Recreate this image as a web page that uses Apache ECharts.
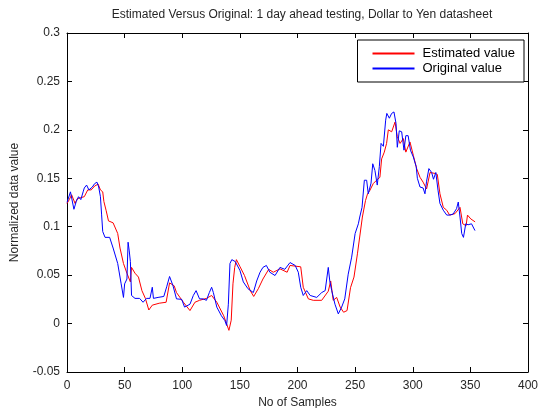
<!DOCTYPE html>
<html>
<head>
<meta charset="utf-8">
<script src="https://cdn.jsdelivr.net/npm/echarts@6/dist/echarts.min.js"></script>
<style>
  html, body { margin: 0; padding: 0; background: #fff; }
  #chart { width: 541px; height: 408px; }
</style>
</head>
<body>
<div id="chart"></div>
<script>
// values (sample index, normalized value)
const origX = [0, 3, 4, 6, 8, 10, 12, 14, 15, 17, 19, 22, 24, 26, 27.5, 29, 30, 31, 33, 37, 40, 44, 47, 49, 50, 52, 53, 54, 55, 56, 59, 63, 66, 69, 72, 74, 75, 79, 84, 86.5, 89, 92, 95, 99.5, 102, 106.7, 109.6, 112, 115, 118, 121, 123.5, 125.5, 127, 130, 134, 137, 138.5, 140, 141.4, 143, 146, 147, 150, 153, 157, 161.7, 164.6, 167.5, 170, 173, 176, 180.5, 184.8, 189, 193.5, 198, 200.7, 202.8, 205, 208, 211, 216.7, 221, 224, 226.7, 228, 229.7, 232.5, 235.4, 238.3, 241, 244, 247, 250, 252.8, 254, 256, 258, 260, 261.4, 263.8, 265.3, 267.2, 269.2, 271, 272.5, 274.5, 276.5, 277.5, 279.7, 281.7, 283.7, 285.5, 286.6, 288.3, 290.4, 292.4, 294, 296, 298, 300.5, 303, 304, 306.3, 309, 310.6, 312, 314, 316.4, 318, 320, 322, 323.6, 326.5, 329.5, 332, 335, 338, 339.5, 341, 342.5, 344, 346, 348, 351, 354];
const origY = [0.125, 0.136, 0.135, 0.118, 0.126, 0.131, 0.128, 0.136, 0.140, 0.143, 0.138, 0.141, 0.1445, 0.146, 0.141, 0.131, 0.113, 0.095, 0.089, 0.089, 0.078, 0.062, 0.041, 0.027, 0.041, 0.046, 0.084, 0.075, 0.064, 0.029, 0.026, 0.026, 0.022, 0.026, 0.026, 0.0375, 0.026, 0.027, 0.028, 0.038, 0.0486, 0.039, 0.0255, 0.025, 0.017, 0.020, 0.029, 0.034, 0.0255, 0.0255, 0.024, 0.032, 0.0375, 0.032, 0.017, 0.008, 0.003, -0.002, 0.020, 0.062, 0.066, 0.064, 0.066, 0.055, 0.043, 0.036, 0.032, 0.044, 0.053, 0.058, 0.060, 0.053, 0.0496, 0.058, 0.056, 0.063, 0.060, 0.053, 0.0375, 0.029, 0.034, 0.029, 0.027, 0.032, 0.034, 0.058, 0.044, 0.034, 0.020, 0.010, 0.017, 0.0255, 0.051, 0.0686, 0.093, 0.103, 0.110, 0.120, 0.148, 0.148, 0.134, 0.145, 0.165, 0.158, 0.143, 0.162, 0.186, 0.183, 0.210, 0.217, 0.212, 0.217, 0.2185, 0.2065, 0.182, 0.199, 0.198, 0.179, 0.194, 0.194, 0.179, 0.172, 0.162, 0.150, 0.141, 0.140, 0.134, 0.147, 0.160, 0.156, 0.149, 0.156, 0.137, 0.124, 0.117, 0.112, 0.112, 0.113, 0.1186, 0.1255, 0.110, 0.093, 0.089, 0.103, 0.102, 0.103, 0.096];

const estX = [0, 2, 4, 7, 9, 12, 15, 18, 21, 24, 27, 29, 31, 32, 34, 36, 40, 44, 46, 49, 52, 55, 56, 57, 59, 62, 65, 68, 71, 74, 80, 86, 89, 93, 95, 101, 106.7, 111, 115, 121, 125.5, 130, 136, 140.5, 142.5, 144, 145.5, 147, 150, 154, 159, 162, 166, 170, 175, 179, 184.8, 191, 193.5, 202.8, 205, 209.4, 213.7, 221, 226.7, 228.8, 231, 234, 237, 240, 243, 246, 249, 252, 256.3, 259, 260.8, 262.8, 265.7, 268.6, 271.5, 273, 275.3, 277.3, 278.8, 281.7, 284.6, 286.6, 289, 291.8, 294, 297.6, 300.5, 303.4, 306.3, 309, 312, 315, 319.3, 321.3, 323.6, 326.5, 329.5, 332, 336.7, 341, 343.4, 346.3, 347.5, 350.4, 354.1];
const estY = [0.124, 0.128, 0.133, 0.124, 0.129, 0.130, 0.131, 0.138, 0.138, 0.142, 0.144, 0.138, 0.136, 0.126, 0.1165, 0.106, 0.104, 0.093, 0.078, 0.062, 0.052, 0.043, 0.058, 0.058, 0.052, 0.048, 0.034, 0.026, 0.014, 0.019, 0.021, 0.022, 0.042, 0.039, 0.032, 0.022, 0.0134, 0.022, 0.024, 0.026, 0.029, 0.022, 0.008, -0.007, 0.0035, 0.041, 0.058, 0.066, 0.059, 0.0496, 0.034, 0.028, 0.036, 0.046, 0.056, 0.053, 0.0565, 0.053, 0.060, 0.0586, 0.0375, 0.0255, 0.024, 0.024, 0.0334, 0.044, 0.024, 0.027, 0.017, 0.0117, 0.0134, 0.037, 0.048, 0.072, 0.110, 0.127, 0.134, 0.1375, 0.1445, 0.148, 0.151, 0.170, 0.177, 0.186, 0.200, 0.198, 0.208, 0.193, 0.186, 0.191, 0.177, 0.1875, 0.1737, 0.160, 0.151, 0.146, 0.139, 0.156, 0.155, 0.154, 0.134, 0.120, 0.117, 0.112, 0.1135, 0.120, 0.103, 0.101, 0.112, 0.108, 0.105];

const xTicks = { min: 0, max: 400, interval: 50 };
const yTicks = { min: -0.05, max: 0.3, interval: 0.05 };

const pairs = (xs, ys) => xs.map((x, i) => [x, ys[i]]);

const font = 'Arial, "Liberation Sans", sans-serif';
const txt = '#262626';
const red = '#ff0000';
const blue = '#0000ff';

const chart = echarts.init(document.getElementById('chart'));
const boxAxis = {
  axisLine: { show: true, onZero: false, lineStyle: { color: '#000', width: 1 } },
  axisTick: { show: true, inside: true, length: 5, lineStyle: { color: '#000' } },
  splitLine: { show: false }
};

chart.setOption({
  animation: false,
  backgroundColor: '#fff',
  color: [red, blue],
  title: {
    text: 'Estimated Versus Original: 1 day ahead testing, Dollar to Yen datasheet',
    left: 297,
    textAlign: 'center',
    top: 4,
    textStyle: { fontFamily: font, fontSize: 12, fontWeight: 'normal', color: txt }
  },
  legend: {
    orient: 'vertical',
    right: 17,
    top: 40,
    padding: [7, 9, 7, 10],
    itemGap: 2,
    itemWidth: 0,
    itemHeight: 0,
    icon: 'rect',
    itemStyle: { opacity: 0 },
    backgroundColor: '#fff',
    borderColor: '#000',
    borderWidth: 1,
    formatter: name => (name === 'Estimated value' ? '{r|}' : '{b|}') + '{t|' + name + '}',
    textStyle: {
      fontFamily: font, fontSize: 13, color: '#000',
      rich: {
        r: { width: 42, height: 2, backgroundColor: red, verticalAlign: 'middle' },
        b: { width: 42, height: 2, backgroundColor: blue, verticalAlign: 'middle' },
        t: { fontFamily: font, fontSize: 13, color: '#000', padding: [0, 0, 0, 8], verticalAlign: 'middle', lineHeight: 16 }
      }
    },
    data: ['Estimated value', 'Original value']
  },
  grid: { left: 67, right: 13, top: 33, bottom: 36, outerBoundsMode: 'none' },
  xAxis: [
    Object.assign({
      type: 'value', ...xTicks,
      name: 'No of Samples', nameLocation: 'middle', nameGap: 24,
      nameTextStyle: { fontFamily: font, fontSize: 12, color: txt },
      axisLabel: { fontFamily: font, fontSize: 12, color: txt, margin: 8 }
    }, boxAxis),
    Object.assign({
      type: 'value', position: 'top', ...xTicks,
      axisLabel: { show: false }
    }, boxAxis)
  ],
  yAxis: [
    Object.assign({
      type: 'value', ...yTicks,
      name: 'Normalized data value', nameLocation: 'middle', nameGap: 46,
      nameTextStyle: { fontFamily: font, fontSize: 12, color: txt },
      axisLabel: {
        fontFamily: font, fontSize: 12, color: txt, margin: 7,
        formatter: v => String(parseFloat(v.toFixed(2)))
      }
    }, boxAxis),
    Object.assign({
      type: 'value', position: 'right', ...yTicks,
      axisLabel: { show: false }
    }, boxAxis)
  ],
  series: [
    {
      name: 'Estimated value',
      type: 'line',
      data: pairs(estX, estY),
      showSymbol: false,
      lineStyle: { color: red, width: 1 },
      itemStyle: { color: red }
    },
    {
      name: 'Original value',
      type: 'line',
      data: pairs(origX, origY),
      showSymbol: false,
      lineStyle: { color: blue, width: 1 },
      itemStyle: { color: blue }
    }
  ]
});
</script>
</body>
</html>
